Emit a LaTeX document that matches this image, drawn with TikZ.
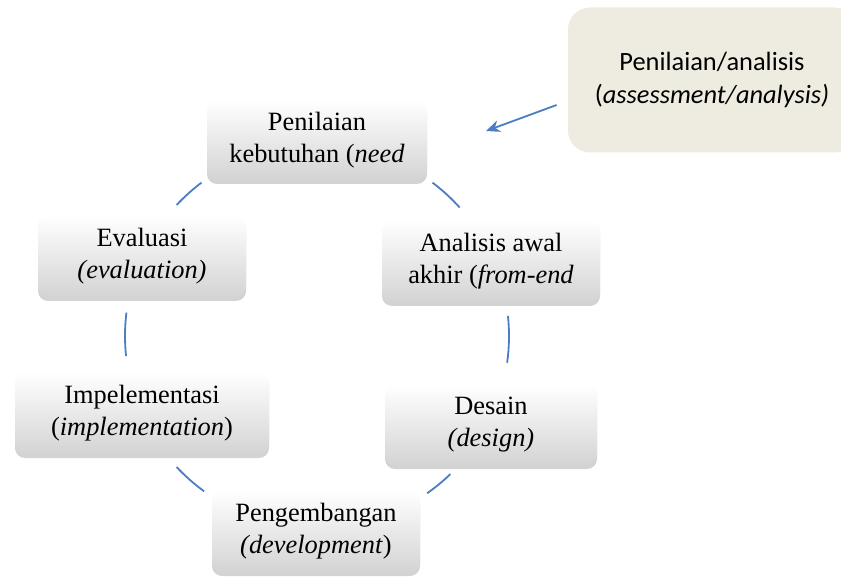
\documentclass[tikz,border=0pt]{standalone}
\usepackage{fontspec}
\setmainfont{Liberation Serif}[ItalicFont={Liberation Serif Italic}]
\newfontfamily\calibrifont{Carlito}
\usetikzlibrary{arrows.meta,shadows}
\definecolor{cycblue}{RGB}{74,126,193}
\definecolor{notebg}{RGB}{238,236,224}
\tikzstyle{Stage}=[rounded corners=5pt, top color=white, bottom color=black!17, drop shadow={shadow xshift=0pt,shadow yshift=-2pt,opacity=.35}, align=center, inner sep=0pt, font=\fontsize{13.2}{16}\selectfont]
\tikzstyle{Note}=[rounded corners=11pt, fill=notebg, align=center, inner sep=0pt, minimum width=144pt, minimum height=72.5pt, font=\calibrifont\fontsize{13.2}{16.5}\selectfont]
\tikzstyle{Cycle}=[cycblue, line width=0.9pt]
\tikzstyle{Arrow}=[cycblue, line width=0.9pt, -{Stealth[length=7pt,width=6pt]}]

\begin{document}
\begin{tikzpicture}[x=0.5pt,y=-0.5pt]
\useasboundingbox (0,0) rectangle (841,577);

% cycle
\coordinate (hub) at (317,336);
\foreach \a/\b in {53/42, 6/-8, -46/-55, -126/-137, 186/173, 137/127}
  \draw[Cycle] ([shift={(\a:96pt)}]hub) arc[start angle=\a, end angle=\b, radius=96pt];

\node[Stage, minimum width=110pt, minimum height=40pt] (need) at (317,140) {Penilaian\\kebutuhan (\textit{need}};
\node[Stage, minimum width=109pt, minimum height=41pt] (frontend) at (491,261) {Analisis awal\\akhir (\textit{from-end}};
\node[Stage, minimum width=106pt, minimum height=40pt] (design) at (491,425) {Desain\\\textit{(design)}};
\node[Stage, minimum width=104pt, minimum height=41pt] (develop) at (316,531) {Pengembangan\\\textit{(development})};
\node[Stage, minimum width=127pt, minimum height=41pt] (implement) at (142,413) {Impelementasi\\(\textit{implementation})};
\node[Stage, minimum width=104pt, minimum height=41pt] (evaluate) at (142,256) {Evaluasi\\\textit{(evaluation)}};

% assessment
\node[Note] (assess) at (712,80) {Penilaian/analisis\\(\textit{assessment/analysis)}};
\coordinate (tip) at (486,131);
\draw[Arrow] ([xshift=-5.5pt,yshift=-12.5pt]assess.west) -- (tip);

\end{tikzpicture}
\end{document}
